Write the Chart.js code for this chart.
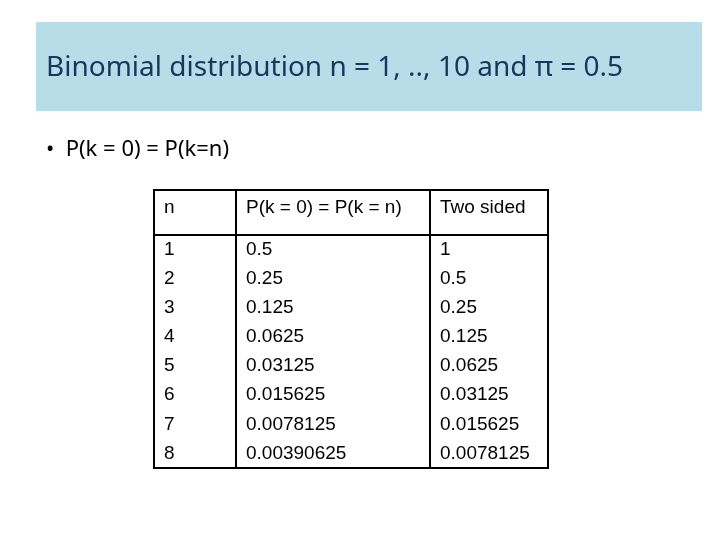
<!DOCTYPE html>
<html><head><meta charset="utf-8">
<script src="https://cdn.jsdelivr.net/npm/chart.js@4"></script>
<style>html,body{margin:0;background:#fff}#c{display:block}</style>
</head><body>
<div style="width:720px;height:540px"><canvas id="c"></canvas></div>
<script>
const headers=['n','P(k = 0) = P(k = n)','Two sided'];
const nValues=['1','2','3','4','5','6','7','8'];
const pValues=['0.5','0.25','0.125','0.0625','0.03125','0.015625','0.0078125','0.00390625'];
const twoSided=['1','0.5','0.25','0.125','0.0625','0.03125','0.015625','0.0078125'];
const colEdges=[0,82,276,394];
const headRows=1.55;

const tablePlugin={
  id:'table',
  afterDraw(ch){
    const c=ch.ctx,x=ch.scales.x,y=ch.scales.y;
    c.save();
    c.fillStyle='#b7dde8';
    c.fillRect(36,22,666,89);
    c.fillStyle='#17375e';
    c.font='28px "Noto Sans"';
    c.textAlign='left';c.textBaseline='middle';
    c.fillText('Binomial distribution n = 1, .., 10 and \u03c0 = 0.5',46,68);
    c.fillStyle='#000';
    c.font='22px "Noto Sans"';
    c.fillText('\u2022  P(k = 0) = P(k=n)',46,150);
    c.strokeStyle='#000';c.lineWidth=2;
    const L=x.getPixelForValue(0),R=x.getPixelForValue(394);
    const T=y.getPixelForValue(0),B=y.getPixelForValue(headRows+nValues.length);
    c.strokeRect(L,T,R-L,B-T);
    c.beginPath();
    const hy=y.getPixelForValue(headRows);
    c.moveTo(L,hy);c.lineTo(R,hy);
    [1,2].forEach(i=>{const px=x.getPixelForValue(colEdges[i]);c.moveTo(px,T);c.lineTo(px,B);});
    c.stroke();
    c.font='19px "Liberation Sans"';
    const cols=[nValues,pValues,twoSided];
    headers.forEach((h,i)=>c.fillText(h,x.getPixelForValue(colEdges[i])+10,y.getPixelForValue(headRows/2-0.18)));
    cols.forEach((col,i)=>col.forEach((v,r)=>
      c.fillText(v,x.getPixelForValue(colEdges[i])+10,y.getPixelForValue(headRows+r+0.5))));
    c.restore();
  }
};

new Chart(document.getElementById('c'),{
  type:'scatter',
  data:{datasets:[{data:[]}]},
  options:{
    responsive:true,maintainAspectRatio:false,animation:false,
    layout:{padding:{left:154,right:172,top:190,bottom:72}},
    plugins:{legend:{display:false},tooltip:{enabled:false}},
    scales:{
      x:{type:'linear',min:0,max:394,display:false},
      y:{type:'linear',min:0,max:headRows+nValues.length,reverse:true,display:false}
    }
  },
  plugins:[tablePlugin]
});
</script>
</body></html>
